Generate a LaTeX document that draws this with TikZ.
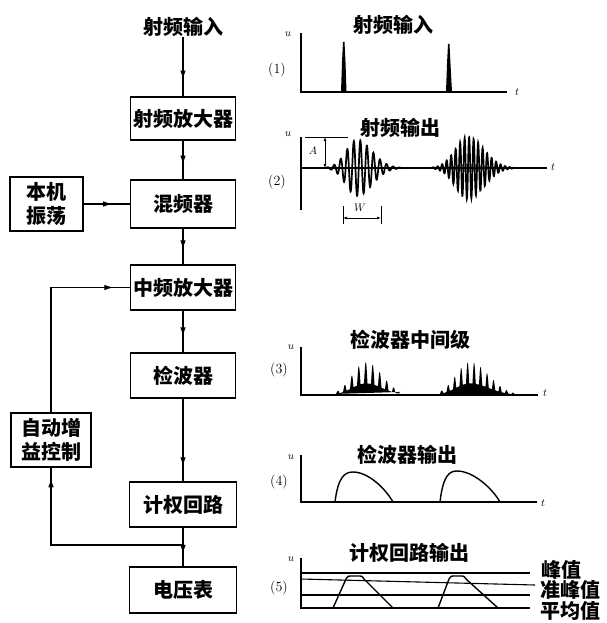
\documentclass[tikz,border=0pt]{standalone}
\usepackage{fontspec}
\newfontfamily\cjk{Noto Sans CJK SC}
\usetikzlibrary{arrows.meta,decorations.markings}
\begin{document}
\begin{tikzpicture}[x=1pt,y=-1pt,
  box/.style={draw,line width=1.8pt,minimum width=105pt,minimum height=44pt,inner sep=0pt,font=\cjk\bfseries\fontsize{20}{24}\selectfont},
  lbl/.style={font=\cjk\bfseries\fontsize{20}{22}\selectfont,inner sep=0pt},
  conn/.style={line width=1.1pt},
  marr/.style={postaction={decorate,decoration={markings,mark=at position #1 with {\arrow{Latex[length=9pt,width=5.5pt]}}}}},
  ax/.style={line width=1.1pt},
  var/.style={font=\fontsize{11}{12}\selectfont,inner sep=0pt},
  num/.style={font=\fontsize{14}{16}\selectfont,inner sep=0pt},
  wave/.style={line width=1.4pt},
  dimarr/.style={line width=0.9pt,{Latex[length=4pt,width=3pt]}-{Latex[length=4pt,width=3pt]}}
]
\useasboundingbox (0,0) rectangle (606,623);

% ---------------- block diagram ----------------
\node[lbl] (in) at (183,27) {射频输入};
\node[box,minimum height=43pt] (rf) at (183,118.5) {射频放大器};
\node[box,minimum height=48pt] (mix) at (183,204) {混频器};
\node[box,minimum width=73pt,minimum height=54pt,align=center] (lo) at (46.5,204) {本机\\振荡};
\node[box,minimum height=45pt] (if) at (183,287.5) {中频放大器};
\node[box,minimum height=45pt] (det) at (183,375.5) {检波器};
\node[box,minimum width=80pt,minimum height=54pt,align=center] (agc) at (51,440) {自动增\\益控制};
\node[box,minimum width=107pt,minimum height=45pt] (wt) at (183,504.5) {计权回路};
\node[box,minimum width=107pt,minimum height=46pt] (vm) at (183,590) {电压表};
\coordinate (j) at (183,545);

\draw[conn,marr=0.72] (in) -- (rf);
\draw[conn,marr=0.62] (rf) -- (mix);
\draw[conn,marr=0.62] (lo) -- (mix);
\draw[conn,marr=0.58] (mix) -- (if);
\draw[conn,marr=0.62] (if) -- (det);
\draw[conn,marr=0.82] (det) -- (wt);
\draw[conn,marr=0.68] (wt) -- (vm);
\draw[conn,marr=0.95] (j) -| (agc);
\draw[conn,marr=0.92] (agc) |- (if);

% ---------------- (1) RF input ----------------
\node[lbl] (t1) at (393,25) {射频输入};
\node[var] (u1) at (288,34) {$u$};
\node[var] (x1) at (517,92) {$t$};
\node[num] (n1) at (277,70) {(1)};
\draw[ax] (301,33) -- (301,92) -- (507,92);
\fill (341,92) -- (342,62) -- (343,42) -- (344.5,42) -- (345.5,62) -- (346.5,92) -- cycle;
\fill (446,92) -- (447,64) -- (448,44) -- (449.5,44) -- (450.5,64) -- (452,92) -- cycle;

% ---------------- (2) RF output ----------------
\node[lbl] (t2) at (400,128) {射频输出};
\node[var] (u2) at (288,134) {$u$};
\node[var] (x2) at (553,167) {$t$};
\node[num] (n2) at (277,182) {(2)};
\draw[ax] (301,137) -- (301,210);
\draw[ax] (301,168) -- (547,168);
\draw[line width=1.7pt] plot[domain=326:402,samples=320] (\x,{168-28*exp(-((\x-357)^2)/((\x<357)?240:450))*sin((\x-326)*55)});
\draw[line width=1.7pt] plot[domain=432:514,samples=380] (\x,{168-31*exp(-((\x-468)^2)/((\x<468)?320:500))*sin((\x-432)*80)});
\draw[line width=0.9pt] (305,137) -- (348,137);
\draw[dimarr] (325,137) -- (325,168);
\node[var] (la) at (313,151) {$A$};
\draw[line width=0.9pt] (343,206) -- (343,224);
\draw[line width=0.9pt] (381,206) -- (381,224);
\draw[dimarr] (343,218) -- (381,218);
\node[var] (lw) at (360,208) {$W$};

% ---------------- (3) detector intermediate ----------------
\node[lbl] (t3) at (410,340) {检波器中间级};
\node[var] (u3) at (291,347) {$u$};
\node[var] (x3) at (545,393) {$t$};
\node[num] (n3) at (279,370) {(3)};
\draw[ax] (301,347) -- (301,395) -- (538,395);
\draw[line width=2pt] (323,395) -- (340,395);
\fill plot[domain=336:400,samples=320] (\x,{395-33*exp(-((\x-366)^2)/((\x<366)?380:520))*(0.35+0.65*max(0,sin((\x-336)*51.43)))}) -- cycle;
\fill plot[domain=440:524,samples=360] (\x,{395-33*exp(-((\x-470)^2)/((\x<470)?400:700))*(0.35+0.65*max(0,sin((\x-440)*55.4)))}) -- cycle;

% ---------------- (4) detector output ----------------
\node[lbl] (t4) at (407,455) {检波器输出};
\node[var] (u4) at (291,457) {$u$};
\node[var] (x4) at (543,503) {$t$};
\node[num] (n4) at (279,482) {(4)};
\draw[ax] (301,455) -- (301,502) -- (537,502);
\draw[wave] (335,502) .. controls (338,478) and (344,472) .. (353,472) .. controls (368,472) and (385,488) .. (393,502);
\draw[wave] (440,502) .. controls (443,476) and (449,471) .. (457,471) .. controls (473,471) and (492,488) .. (500,502);

% ---------------- (5) weighting output ----------------
\node[lbl] (t5) at (409,553) {计权回路输出};
\node[var] (u5) at (291,559) {$u$};
\node[num] (n5) at (279,588) {(5)};
\draw[ax] (301,558) -- (301,608) -- (530,608);
\draw[ax] (301,573) -- (530,573);
\draw[ax] (301,579) -- (535,585);
\draw[ax] (301,595) -- (530,595);
\draw[wave] (333,608) -- (346,579) .. controls (348,576) .. (352,576) -- (358,576) .. controls (362,576) .. (364,579) -- (393,608);
\draw[wave] (438,608) -- (449,579) .. controls (451,576) .. (455,576) -- (460,576) .. controls (464,576) .. (466,579) -- (498,608);
\node[lbl,anchor=west] (pk) at (541,570) {峰值};
\node[lbl,anchor=west] (qp) at (540,590) {准峰值};
\node[lbl,anchor=west] (av) at (540,611) {平均值};
\end{tikzpicture}
\end{document}
